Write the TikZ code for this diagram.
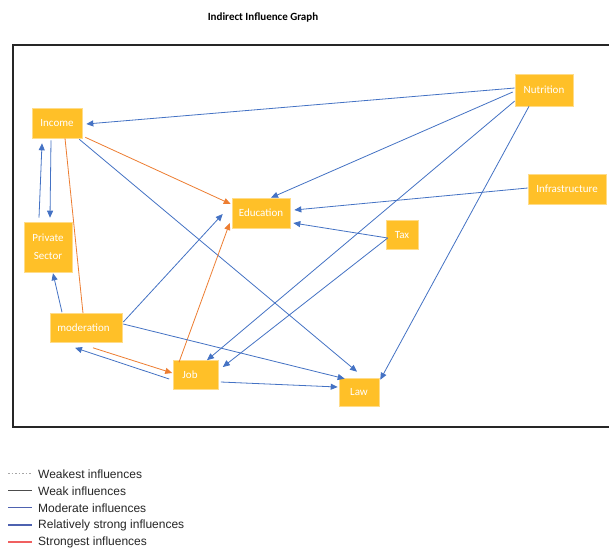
\documentclass[tikz,border=0pt]{standalone}
\usepackage{fontspec}
\setmainfont{Carlito}
\newfontfamily\legendfont{Liberation Sans}
\usetikzlibrary{arrows.meta,calc}
\definecolor{gold}{RGB}{255,192,40}
\definecolor{lblue}{RGB}{68,114,196}
\definecolor{lorange}{RGB}{237,125,49}
\definecolor{sblue}{RGB}{78,98,176}
\definecolor{sred}{RGB}{240,96,96}
\begin{document}
\begin{tikzpicture}[x=1pt,y=-1pt,
  box/.style={fill=gold, draw=gold!55!white, line width=0.6pt, text=white,
    font=\fontsize{11}{18}\selectfont, inner sep=0pt, align=center},
  barr/.style={draw=lblue, line width=0.8pt, -{Triangle[length=7pt,width=6pt]}},
  oarr/.style={draw=lorange, line width=0.8pt, -{Triangle[length=7pt,width=6pt]}},
  oline/.style={draw=lorange, line width=0.8pt},
  legtext/.style={anchor=west, inner sep=0pt, font=\legendfont\fontsize{12}{13}\selectfont, text=black!85}
]
\useasboundingbox[fill=white] (0,0) rectangle (609,550);
% title
\node[font=\bfseries\fontsize{11}{13}\selectfont] (title) at (263,18) {Indirect Influence Graph};
% frame
\draw[line width=1.6pt, draw=black!85] (609,45) -- (13,45) -- (13,427) -- (609,427);
% nodes
\node[box, minimum width=50pt, minimum height=30pt] (inc) at (57,123) {Income};
\node[box, minimum width=48pt, minimum height=50pt] (ps) at (48,247) {Private\\Sector};
\node[box, minimum width=58pt, minimum height=30pt] (edu) at (261,213) {Education};
\node[box, minimum width=58pt, minimum height=32pt] (nut) at (544,90) {Nutrition};
\node[box, minimum width=78pt, minimum height=30pt] (inf) at (567,189) {Infrastructure};
\node[box, minimum width=32pt, minimum height=29pt] (tax) at (402,235) {Tax};
\node[box, minimum width=72pt, minimum height=29pt] (mod) at (86,328) {moderation\hspace*{5pt}};
\node[box, minimum width=45pt, minimum height=29pt] (job) at (196,375) {Job\hspace*{12pt}};
\node[box, minimum width=40pt, minimum height=28pt] (law) at (359,392) {Law};
% edges
\draw[barr] ($(nut.west)+(0,-2)$) -- ($(inc.east)+(4,1)$);
\draw[barr] ($(nut.west)+(-2,2)$) -- ($(edu.north)+(10,0)$);
\draw[barr] ($(nut.west)+(0,11)$) -- ($(job.north)+(11,0)$);
\draw[barr] ($(nut.south)+(-15,0)$) -- ($(law.north east)+(1,2)$);
\draw[barr] ($(inf.west)+(0,-1)$) -- ($(edu.east)+(4,-3)$);
\draw[barr] ($(tax.west)+(2,3)$) -- ($(edu.east)+(3,10)$);
\draw[barr] ($(tax.west)+(2,3)$) -- ($(job.east)+(4,-8)$);
\draw[oarr] ($(inc.south east)+(3,-1)$) -- ($(edu.west)+(-1,-9)$);
\draw[barr] ($(inc.south east)+(-3,1)$) -- ($(law.north)+(-2,-6)$);
\draw[barr] ($(inc.south)+(-6,2)$) -- ($(ps.north)+(2,-4)$);
\draw[barr] ($(ps.north)+(-9,-4)$) -- ($(inc.south)+(-15,5)$);
\draw[oline] ($(inc.south)+(8,0)$) -- ($(mod.north)+(-3,0)$);
\draw[barr] ($(mod.north)+(-24,-1)$) -- ($(ps.south)+(5,1)$);
\draw[barr] ($(mod.east)+(1,-6)$) -- ($(edu.west)+(-9,1)$);
\draw[oarr] ($(job.north)+(-17,2)$) -- ($(edu.west)+(-2,10)$);
\draw[barr] ($(mod.east)+(1,-4)$) -- ($(law.north west)+(6,1)$);
\draw[oarr] ($(mod.south)+(7,5)$) -- ($(job.west)+(-1,-2)$);
\draw[barr] ($(job.west)+(-4,4)$) -- ($(mod.south)+(-11,5)$);
\draw[barr] ($(job.east)+(2,7)$) -- ($(law.west)+(-1,-5)$);
% legend
\coordinate (l1a) at (8,473); \coordinate (l1b) at (32,473);
\coordinate (l2a) at (8,490); \coordinate (l2b) at (32,490);
\coordinate (l3a) at (8,507); \coordinate (l3b) at (32,507);
\coordinate (l4a) at (8,525); \coordinate (l4b) at (32,525);
\coordinate (l5a) at (8,542); \coordinate (l5b) at (32,542);
\draw[black!35, line width=0.7pt, dash pattern=on 1.5pt off 2pt] (l1a) -- (l1b);
\draw[black!70, line width=0.8pt] (l2a) -- (l2b);
\draw[sblue, line width=0.8pt] (l3a) -- (l3b);
\draw[sblue, line width=2.4pt] (l4a) -- (l4b);
\draw[sred, line width=2.4pt] (l5a) -- (l5b);
\node[legtext] (t1) at (38,474) {Weakest influences};
\node[legtext] (t2) at (38,491) {Weak influences};
\node[legtext] (t3) at (38,508) {Moderate influences};
\node[legtext] (t4) at (38,525) {Relatively strong influences};
\node[legtext] (t5) at (38,542) {Strongest influences};
\end{tikzpicture}
\end{document}
